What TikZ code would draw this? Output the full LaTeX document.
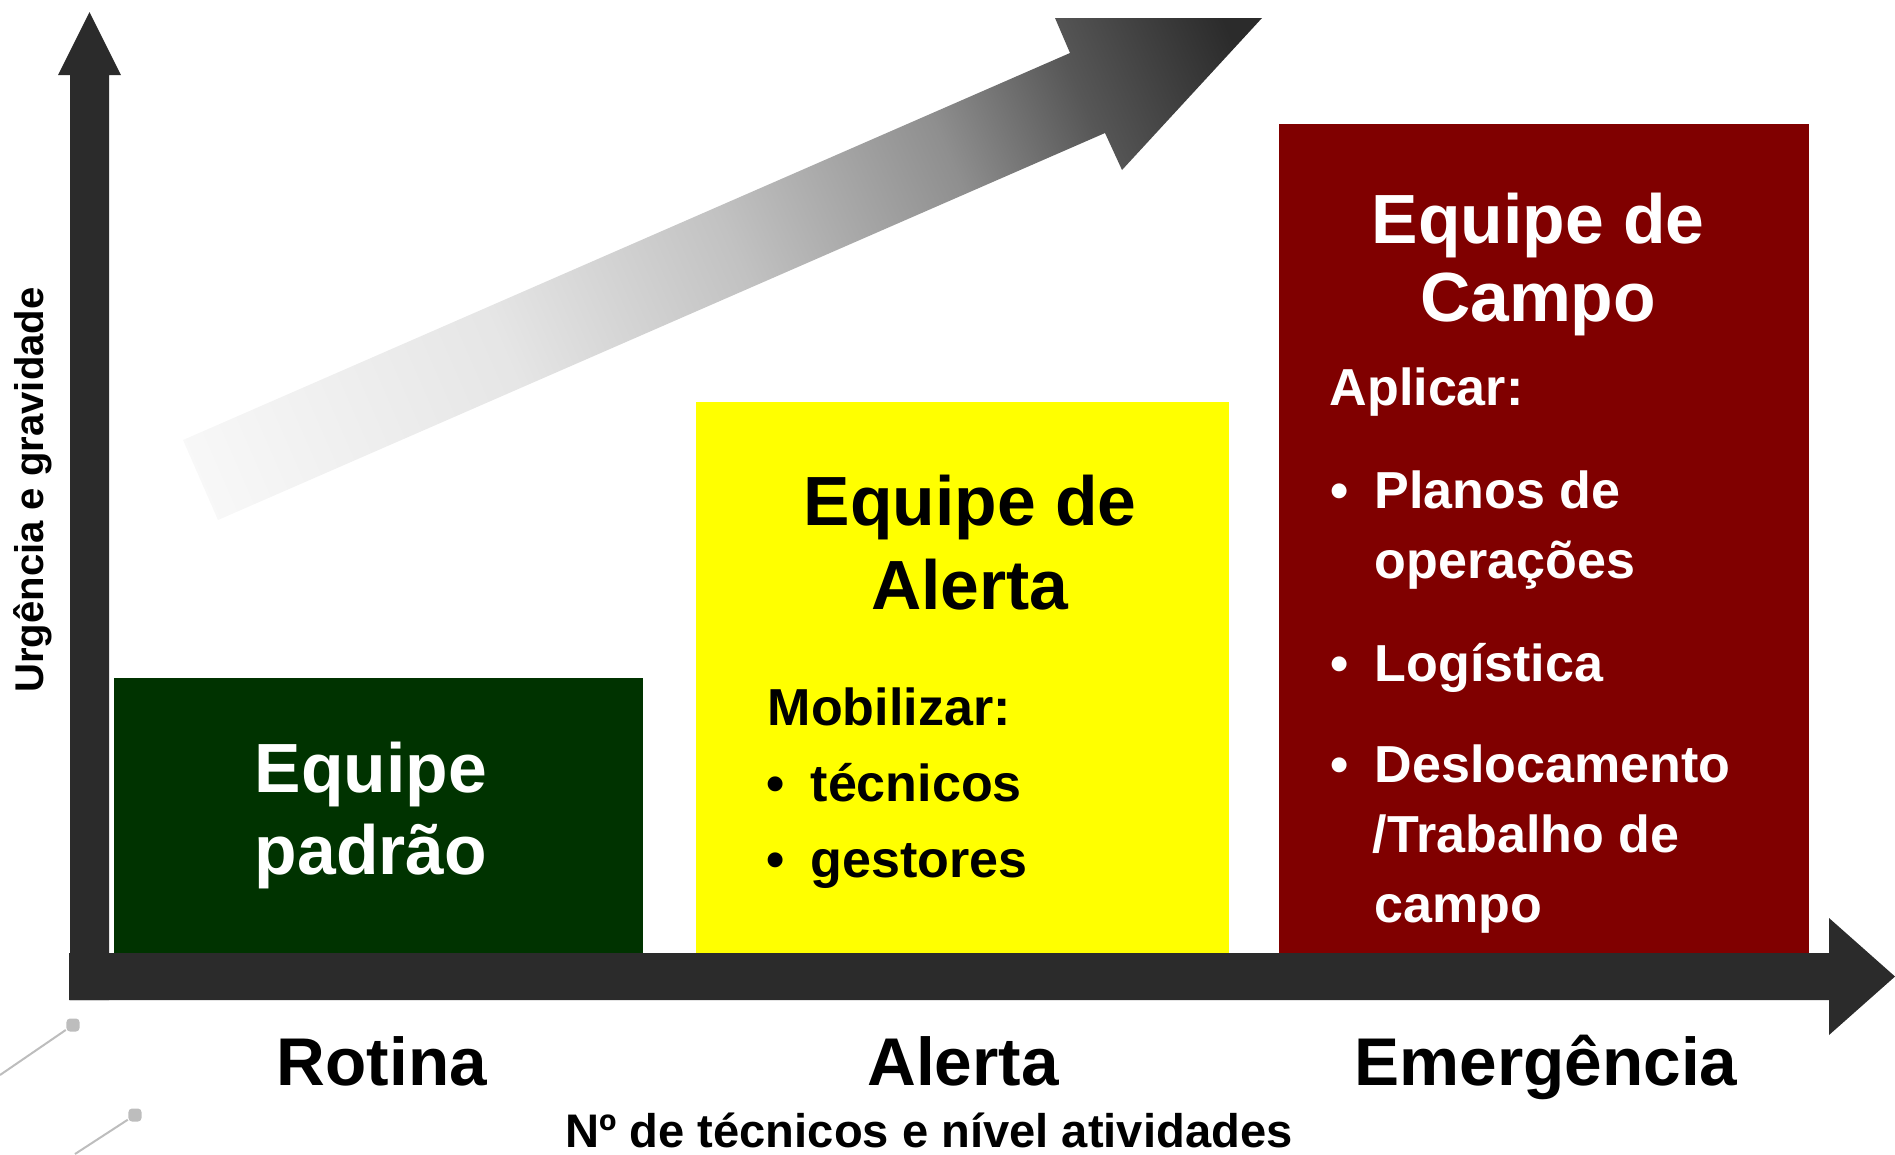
\documentclass[tikz,border=0pt]{standalone}
\usepackage{fontspec}
\setmainfont{Liberation Sans}
\usepackage{xcolor}

\definecolor{axisgray}{HTML}{2B2B2B}
\definecolor{rotgreen}{HTML}{003300}
\definecolor{alertyellow}{HTML}{FFFF00}
\definecolor{fieldred}{HTML}{800000}
\definecolor{dotgray}{HTML}{BDBDBD}

\pgfdeclarehorizontalshading{arrowfade}{100bp}{color(0bp)=(white!98!black); color(16.5bp)=(white!98!black); color(37.2bp)=(white!90!black); color(51bp)=(white!76!black); color(64bp)=(white!56!black); color(72bp)=(white!34!black); color(81bp)=(axisgray); color(100bp)=(axisgray)}

\tikzset{
  title/.style={font=\fontsize{19.8}{23}\selectfont\bfseries, inner sep=0pt, anchor=base},
  item/.style={font=\fontsize{14.8}{18}\selectfont\bfseries, inner sep=0pt, anchor=base west},
  level/.style={font=\fontsize{19.2}{23}\selectfont\bfseries, inner sep=0pt, anchor=base},
  axislabel/.style={font=\fontsize{13.4}{16}\selectfont\bfseries, inner sep=0pt, anchor=base},
  dotmark/.style={fill=dotgray, minimum size=0.13cm, inner sep=0pt, rounded corners=1pt},
  stub/.style={dotgray, line width=0.02cm},
}

\begin{document}
\begin{tikzpicture}[x=0.01cm, y=-0.01cm]
    \useasboundingbox (0,0) rectangle (1895,1154);

    % Growth arrow
    \shade[shading=arrowfade, shading angle=23.6] (183,440) -- (1070,53) -- (1055,18) -- (1262,18) -- (1122,170) -- (1105,133) -- (218,520) -- cycle;

    % Team boxes
    \fill[rotgreen] (114,678) rectangle (643,953);
    \fill[alertyellow] (696,402) rectangle (1229,953);
    \fill[fieldred] (1279,124) rectangle (1809,953);

    % Axes
    \fill[axisgray] (70,1000) -- (70,75) -- (58,75) -- (89.5,12) -- (121,75) -- (109,75) -- (109,1000) -- cycle;
    \fill[axisgray] (69,953) -- (1829,953) -- (1829,918) -- (1895,976.5) -- (1829,1035) -- (1829,1000) -- (69,1000) -- cycle;

    % Rotina team
    \node[title, white] (padrao1) at (371,792) {Equipe};
    \node[title, white] (padrao2) at (371,874) {padrão};

    % Alerta team
    \node[title] (alerta1) at (970,525) {Equipe de};
    \node[title] (alerta2) at (970,609) {Alerta};
    \node[item] (mobilizar) at (767,725) {Mobilizar:};
    \node[item] (bul1) at (766,801) {•};
    \node[item] (tecnicos) at (810,801) {técnicos};
    \node[item] (bul2) at (766,877) {•};
    \node[item] (gestores) at (810,877) {gestores};

    % Campo team
    \node[title, white] (campo1) at (1538,243) {Equipe de};
    \node[title, white] (campo2) at (1538,321) {Campo};
    \node[item, white] (aplicar) at (1329,405) {Aplicar:};
    \node[item, white] (bul3) at (1330,508) {•};
    \node[item, white] (planos) at (1374,508) {Planos de};
    \node[item, white] (operacoes) at (1374,578) {operações};
    \node[item, white] (bul4) at (1330,681) {•};
    \node[item, white] (logistica) at (1374,681) {Logística};
    \node[item, white] (bul5) at (1330,782) {•};
    \node[item, white] (desloc) at (1374,782) {Deslocamento};
    \node[item, white] (trabalho) at (1372,852) {/Trabalho de};
    \node[item, white] (campo3) at (1374,922) {campo};

    % Levels
    \node[level] (rotina) at (382,1085) {Rotina};
    \node[level] (alerta) at (963,1085) {Alerta};
    \node[level] (emerg) at (1546,1085) {Emergência};

    % Axis labels
    \node[axislabel] (xlabel) at (929,1147) {Nº de técnicos e nível atividades};
    \node[axislabel, font=\fontsize{11.4}{14}\selectfont\bfseries, rotate=90] (ylabel) at (43,490) {Urgência e gravidade};

    % Stray connectors
    \node[dotmark] (dot1) at (73,1025) {};
    \node[dotmark] (dot2) at (135,1115) {};
    \coordinate (end1) at (0,1075);
    \coordinate (end2) at (75,1154);
    \draw[stub] (end1) -- (dot1);
    \draw[stub] (end2) -- (dot2);
\end{tikzpicture}
\end{document}
